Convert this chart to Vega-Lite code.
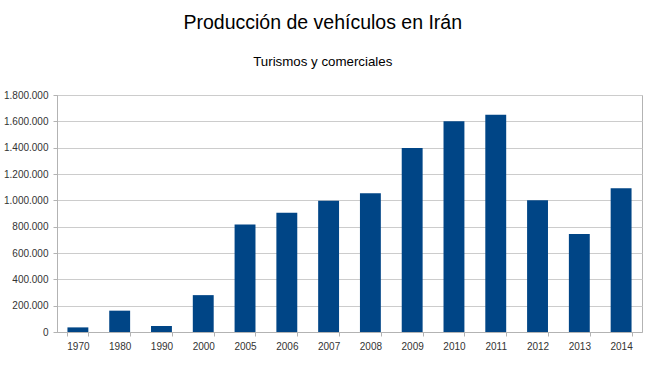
{
  "$schema": "https://vega.github.io/schema/vega-lite/v6.json",
  "width": 585,
  "height": 237,
  "autosize": {"type": "none"},
  "padding": {"left": 57, "top": 95, "right": 10, "bottom": 34},
  "background": "white",
  "title": {
    "text": "Producción de vehículos en Irán",
    "subtitle": "Turismos y comerciales",
    "anchor": "middle",
    "frame": "bounds",
    "font": "Liberation Sans",
    "fontSize": 19.5,
    "fontWeight": "normal",
    "color": "#000000",
    "subtitleFont": "Liberation Sans",
    "subtitleFontSize": 13.3,
    "subtitleColor": "#000000",
    "subtitlePadding": 21,
    "offset": 21
  },
  "config": {
    "locale": {"number": {"decimal": ",", "thousands": ".", "grouping": [3], "currency": ["", " €"]}},
    "view": {"stroke": "#b3b3b3", "strokeWidth": 1},
    "axis": {
      "labelFont": "Liberation Sans",
      "labelFontSize": 10,
      "labelColor": "#333333",
      "domainColor": "#b3b3b3",
      "tickColor": "#b3b3b3",
      "gridColor": "#cccccc",
      "tickSize": 4,
      "labelPadding": 4
    }
  },
  "data": {
    "values": [
      {"year": "1970", "units": 35000},
      {"year": "1980", "units": 162000},
      {"year": "1990", "units": 45000},
      {"year": "2000", "units": 280000},
      {"year": "2005", "units": 817000},
      {"year": "2006", "units": 905000},
      {"year": "2007", "units": 997000},
      {"year": "2008", "units": 1053000},
      {"year": "2009", "units": 1397000},
      {"year": "2010", "units": 1600000},
      {"year": "2011", "units": 1650000},
      {"year": "2012", "units": 1000000},
      {"year": "2013", "units": 744000},
      {"year": "2014", "units": 1091000}
    ]
  },
  "mark": {"type": "bar", "color": "#004586"},
  "encoding": {
    "x": {
      "field": "year",
      "type": "ordinal",
      "title": null,
      "sort": null,
      "scale": {"paddingInner": 0.5, "paddingOuter": 0.25},
      "axis": {"labelAngle": 0, "tickBand": "extent", "labelPadding": 5, "grid": false}
    },
    "y": {
      "field": "units",
      "type": "quantitative",
      "title": null,
      "scale": {"domain": [0, 1800000], "nice": false},
      "axis": {"values": [0, 200000, 400000, 600000, 800000, 1000000, 1200000, 1400000, 1600000, 1800000], "format": ",d", "grid": true, "labelPadding": 5}
    }
  }
}
